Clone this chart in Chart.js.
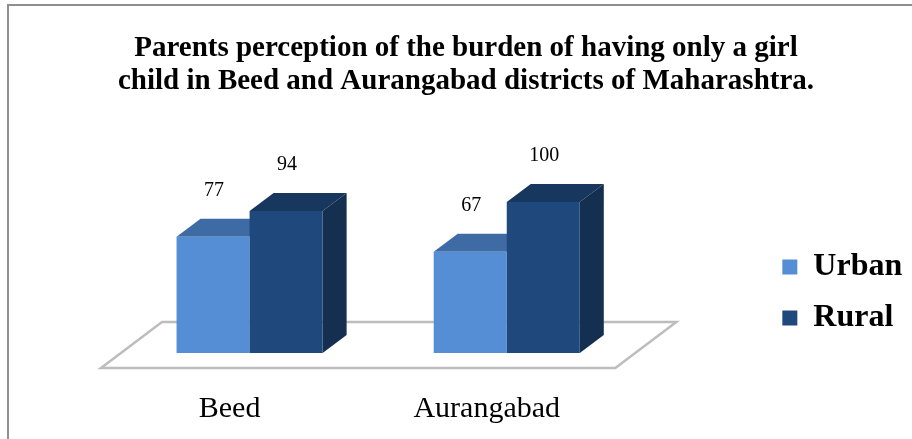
<!DOCTYPE html>
<html>
<head>
<meta charset="utf-8">
<script src="https://cdn.jsdelivr.net/npm/chart.js@4.4.1/dist/chart.umd.min.js"></script>
<style>
  html, body { margin: 0; padding: 0; background: #ffffff; }
  #wrap { position: relative; width: 912px; height: 439px; }
</style>
</head>
<body>
<div id="wrap"><canvas id="c" width="912" height="439"></canvas></div>
<script>
// ---- data ----
const titleLines = ['Parents perception of the burden of having only a girl', 'child in Beed and Aurangabad districts of Maharashtra.'];
const categories = ['Beed', 'Aurangabad'];
const seriesNames = ['Urban', 'Rural'];
const urbanValues = [77, 67];
const ruralValues = [94, 100];

// ---- styles ----
const FRONT = ['#558ED5', '#1F497D'];
const TOP = ['#3E6BA3', '#17375E'];
const SIDE = ['#3A64A0', '#142F50'];
const SERIF = "'Liberation Serif', 'Times New Roman', serif";

const frame3d = {
  id: 'frame3d',
  beforeDraw(chart) {
    const ctx = chart.ctx;
    ctx.save();
    ctx.fillStyle = '#ffffff';
    ctx.fillRect(0, 0, chart.width, chart.height);
    ctx.strokeStyle = '#8f8f8f';
    ctx.lineWidth = 2;
    ctx.beginPath();
    ctx.moveTo(8, chart.height);
    ctx.lineTo(8, 5);
    ctx.lineTo(chart.width, 5);
    ctx.stroke();
    ctx.restore();
  },
  beforeDatasetsDraw(chart) {
    const ctx = chart.ctx;
    const a = chart.chartArea;
    // floor plane
    ctx.save();
    ctx.beginPath();
    ctx.moveTo(a.left - 20, a.bottom + 15);
    ctx.lineTo(a.right - 20, a.bottom + 15);
    ctx.lineTo(a.right + 41, a.bottom - 31);
    ctx.lineTo(a.left + 41, a.bottom - 31);
    ctx.closePath();
    ctx.fillStyle = '#ffffff';
    ctx.fill();
    ctx.strokeStyle = '#bdbdbd';
    ctx.lineWidth = 2.5;
    ctx.lineJoin = 'miter';
    ctx.stroke();
    // 3d tops and sides of bars
    const dx = 24, dy = -18;
    chart.data.datasets.forEach((ds, di) => {
      const meta = chart.getDatasetMeta(di);
      meta.data.forEach(bar => {
        const p = bar.getProps(['x', 'y', 'base', 'width'], true);
        const l = p.x - p.width / 2, r = p.x + p.width / 2, t = p.y, b = p.base;
        ctx.beginPath();
        ctx.moveTo(l, t); ctx.lineTo(l + dx, t + dy); ctx.lineTo(r + dx, t + dy); ctx.lineTo(r, t);
        ctx.closePath();
        ctx.fillStyle = TOP[di];
        ctx.fill();
        ctx.beginPath();
        ctx.moveTo(r, t); ctx.lineTo(r + dx, t + dy); ctx.lineTo(r + dx, b + dy); ctx.lineTo(r, b);
        ctx.closePath();
        ctx.fillStyle = SIDE[di];
        ctx.fill();
      });
    });
    ctx.restore();
  },
  afterDatasetsDraw(chart) {
    const ctx = chart.ctx;
    ctx.save();
    ctx.font = '20px ' + SERIF;
    ctx.fillStyle = '#000000';
    ctx.textAlign = 'center';
    ctx.textBaseline = 'alphabetic';
    chart.data.datasets.forEach((ds, di) => {
      const meta = chart.getDatasetMeta(di);
      meta.data.forEach((bar, i) => {
        const p = bar.getProps(['x', 'y'], true);
        ctx.fillText(String(ds.data[i]), p.x + 1, p.y - 41);
      });
    });
    ctx.restore();
  }
};

new Chart(document.getElementById('c'), {
  type: 'bar',
  data: {
    labels: categories,
    datasets: [
      { label: seriesNames[0], data: urbanValues, backgroundColor: FRONT[0], borderWidth: 0, yAxisID: 'y' },
      { label: seriesNames[1], data: ruralValues, backgroundColor: FRONT[1], borderWidth: 0, yAxisID: 'y' }
    ]
  },
  options: {
    responsive: false,
    animation: false,
    devicePixelRatio: 1,
    categoryPercentage: 0.568,
    barPercentage: 1.0,
    layout: { padding: { left: 20, right: 0, top: 5, bottom: 0 } },
    plugins: {
      title: {
        display: true,
        text: titleLines,
        color: '#000000',
        font: { family: SERIF, size: 29, weight: 'bold', lineHeight: 33 / 29 },
        padding: { top: 27, bottom: 28.5 }
      },
      legend: {
        display: true,
        position: 'right',
        align: 'end',
        fullSize: false,
        labels: {
          color: '#000000',
          font: { family: SERIF, size: 32, weight: 'bold' },
          boxWidth: 15,
          boxHeight: 15,
          padding: 19
        }
      },
      tooltip: { enabled: false }
    },
    scales: {
      x: {
        offset: true,
        grid: { display: false },
        border: { display: false },
        ticks: { color: '#000000', padding: 30, labelOffset: -20, font: { family: SERIF, size: 30, lineHeight: 1.2 } },
        afterFit(s) { s.height = 86; }
      },
      y: {
        position: 'left',
        min: 0,
        max: 150,
        grid: { display: false },
        border: { display: false },
        ticks: { display: false },
        afterFit(s) { s.width = 101; }
      },
      y2: {
        position: 'right',
        min: 0,
        max: 1,
        grid: { display: false },
        border: { display: false },
        ticks: { display: false },
        afterFit(s) { s.width = 128; }
      }
    }
  },
  plugins: [frame3d]
});
</script>
</body>
</html>
